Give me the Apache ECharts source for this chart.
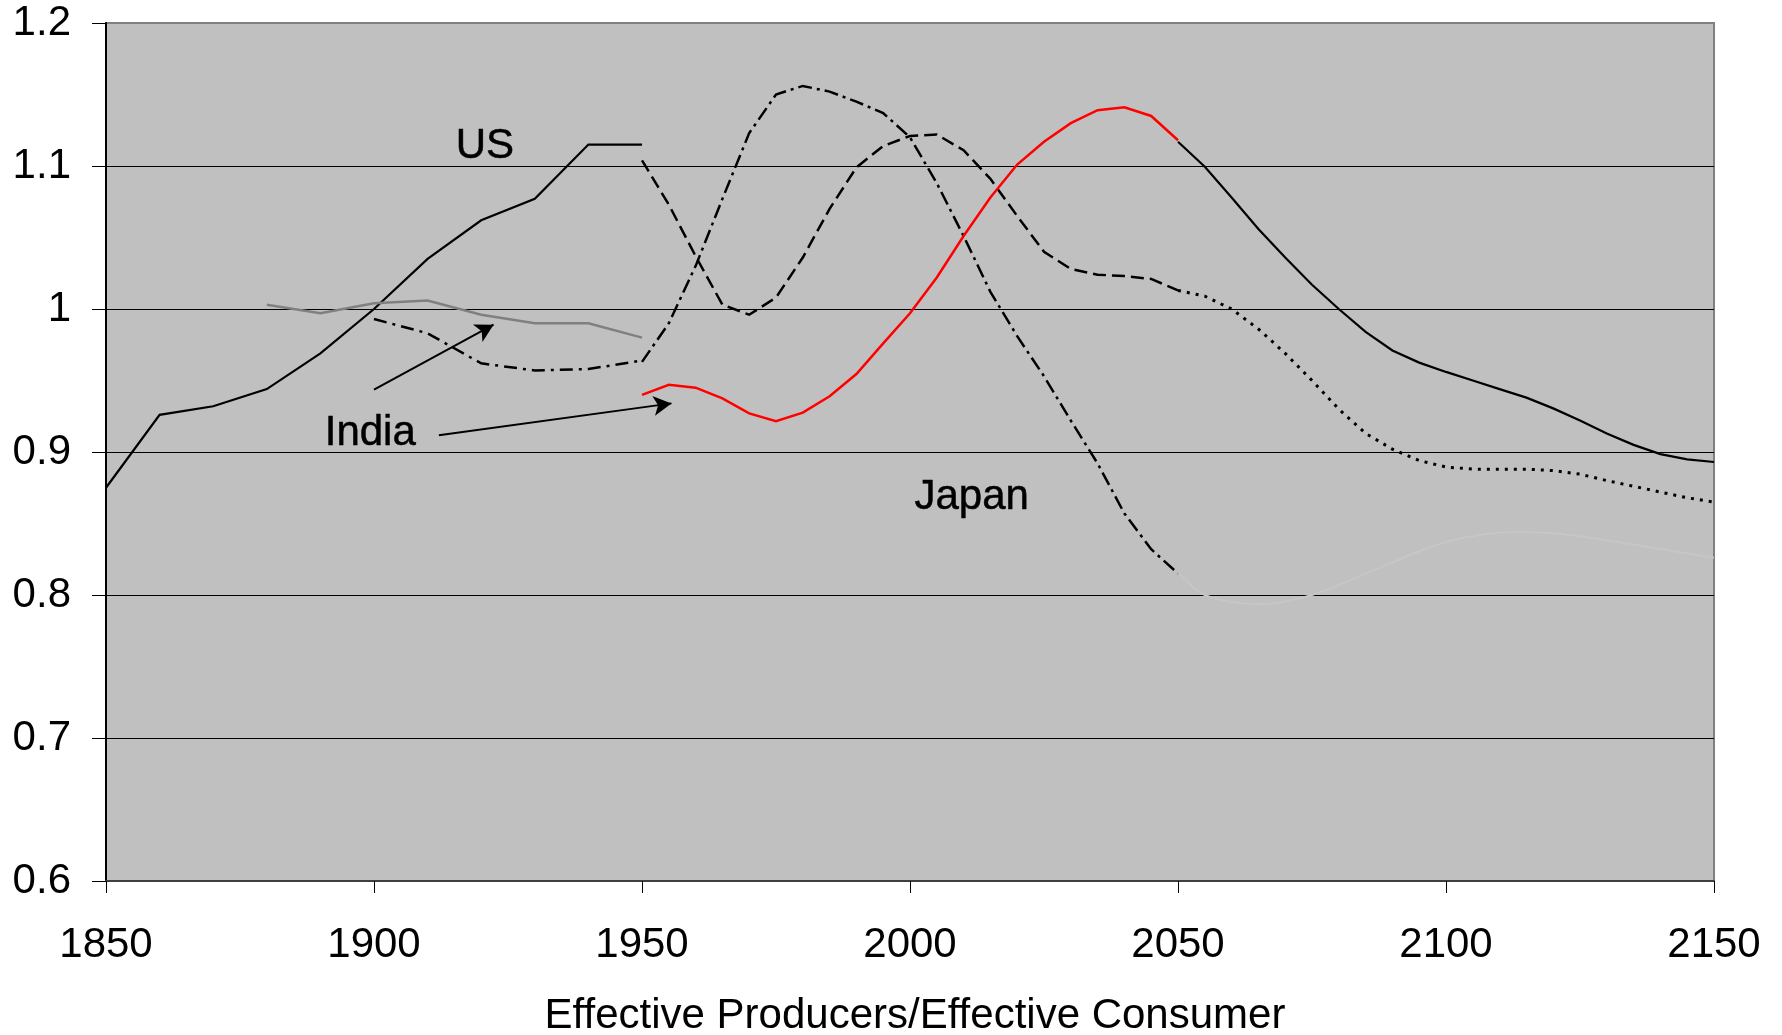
<!DOCTYPE html>
<html>
<head>
<meta charset="utf-8">
<script src="https://cdn.jsdelivr.net/npm/echarts@6/dist/echarts.min.js"></script>
<style>
  html, body { margin: 0; padding: 0; background: #fff; }
  #chart { width: 1782px; height: 1035px; }
</style>
</head>
<body>
<div id="chart"></div>
<script>
// ---- data ----
const usHistYears = [1850, 1860, 1870, 1880, 1890, 1900, 1910, 1920, 1930, 1940, 1950];
const usHist = [0.875, 0.926, 0.932, 0.944, 0.969, 1.0, 1.035, 1.062, 1.077, 1.115, 1.115];

const midYears = [1950, 1955, 1960, 1965, 1970, 1975, 1980, 1985, 1990, 1995, 2000,
  2005, 2010, 2015, 2020, 2025, 2030, 2035, 2040, 2045, 2050];
const lateYears = [2050, 2055, 2060, 2065, 2070, 2075, 2080, 2085, 2090, 2095, 2100,
  2105, 2110, 2115, 2120, 2125, 2130, 2135, 2140, 2145, 2150];

const usMid = [1.104, 1.073, 1.037, 1.003, 0.996, 1.008, 1.036, 1.070, 1.099, 1.114, 1.121,
  1.122, 1.111, 1.091, 1.065, 1.040, 1.028, 1.024, 1.023, 1.021, 1.013];
const usLate = [1.013, 1.009, 1.0, 0.986, 0.969, 0.95, 0.93, 0.913, 0.902, 0.894, 0.8895,
  0.888, 0.888, 0.888, 0.887, 0.8845, 0.880, 0.876, 0.872, 0.868, 0.865];

const japanHistYears = [1900, 1910, 1920, 1930, 1940, 1950];
const japanHist = [0.993, 0.983, 0.962, 0.957, 0.958, 0.964];
const japanMid = [0.963, 0.99, 1.03, 1.077, 1.123, 1.150, 1.156, 1.152, 1.145, 1.137, 1.120,
  1.088, 1.051, 1.012, 0.981, 0.953, 0.922, 0.892, 0.857, 0.832, 0.815];
const japanLateYears = [2050, 2055, 2065, 2075, 2087, 2100, 2113, 2123, 2137, 2150];
const japanLate = [0.816, 0.80, 0.7935, 0.80, 0.818, 0.837, 0.844, 0.842, 0.834, 0.826];

const indiaHistYears = [1880, 1890, 1900, 1910, 1920, 1930, 1940, 1950];
const indiaHist = [1.003, 0.997, 1.004, 1.006, 0.996, 0.990, 0.990, 0.980];
const indiaMid = [0.940, 0.947, 0.945, 0.9375, 0.927, 0.9215, 0.9275, 0.939, 0.9545, 0.976, 0.997,
  1.022, 1.051, 1.078, 1.101, 1.117, 1.130, 1.139, 1.141, 1.135, 1.118];
const indiaLate = [1.117, 1.0995, 1.078, 1.056, 1.036, 1.017, 1.0, 0.984, 0.971, 0.9625, 0.956,
  0.950, 0.944, 0.938, 0.9305, 0.922, 0.913, 0.905, 0.8985, 0.8948, 0.893];

const labelNames = ['US', 'Japan', 'India'];
const labelPos = [[1920.7, 1.114], [2011.5, 0.868], [1899.3, 0.913]];
// India arrows: [start, end]
const arrows = [
  [[1900, 0.9436], [1922.3, 0.989]],
  [[1912.1, 0.9117], [1955.5, 0.934]]
];

const xTicks = { min: 1850, max: 2150, interval: 50 };
const yTicks = { min: 0.6, max: 1.2, interval: 0.1 };

const FONT = "'Liberation Sans', Arial, sans-serif";
const FS = 42;

function pairs(xs, ys) {
  return xs.map((x, i) => [x, ys[i]]);
}

function seg(name, xs, ys, color, width, type, extra) {
  return Object.assign({
    name: name,
    type: 'line',
    data: pairs(xs, ys),
    showSymbol: false,
    symbol: 'none',
    silent: true,
    lineStyle: { color: color, width: width, type: type, cap: 'butt', join: 'miter' }
  }, extra || {});
}

const chart = echarts.init(document.getElementById('chart'));

chart.setOption({
  animation: false,
  textStyle: { fontFamily: FONT },
  title: {
    text: 'Effective Producers/Effective Consumer',
    left: 910,
    top: 990,
    textAlign: 'center',
    textStyle: { fontFamily: FONT, fontSize: FS, fontWeight: 'normal', color: '#000' }
  },
  grid: {
    left: 106,
    right: 68,
    top: 23,
    bottom: 154,
    show: true,
    backgroundColor: '#c0c0c0',
    borderColor: '#808080',
    borderWidth: 2
  },
  xAxis: {
    type: 'value',
    min: xTicks.min,
    max: xTicks.max,
    interval: xTicks.interval,
    axisLine: { show: true, lineStyle: { color: '#404040', width: 2 } },
    axisTick: { show: true, length: 12, lineStyle: { color: '#000', width: 1 } },
    splitLine: { show: false },
    axisLabel: {
      fontFamily: FONT, fontSize: FS, color: '#000', margin: 43,
      formatter: v => String(v)
    }
  },
  yAxis: {
    type: 'value',
    min: yTicks.min,
    max: yTicks.max,
    interval: yTicks.interval,
    axisLine: { show: true, lineStyle: { color: '#000', width: 2 } },
    axisTick: { show: true, length: 14, lineStyle: { color: '#000', width: 1 } },
    splitLine: { show: true, showMinLine: false, showMaxLine: false, lineStyle: { color: '#000', width: 1 } },
    axisLabel: {
      fontFamily: FONT, fontSize: FS, color: '#000', margin: 35,
      formatter: v => String(Math.round(v * 10) / 10)
    }
  },
  series: [
    seg('Japan 2050-2150', japanLateYears, japanLate, '#c6c6c6', 2, 'solid', { smooth: 0.3 }),
    seg('US 1850-1950', usHistYears, usHist, '#000', 2.2, 'solid'),
    seg('US 1950-2050', midYears, usMid, '#000', 2.5, [13, 6]),
    seg('US 2050-2150', lateYears, usLate, '#000', 3, [3, 6]),
    seg('Japan 1900-1950', japanHistYears, japanHist, '#000', 2.5, [13, 6, 3, 6]),
    seg('Japan 1950-2050', midYears, japanMid, '#000', 2.5, [14, 5, 3, 5]),
    seg('India 1880-1950', indiaHistYears, indiaHist, '#808080', 2.5, 'solid'),
    seg('India 1950-2050', midYears, indiaMid, '#ff0000', 2.5, 'solid'),
    seg('India 2050-2150', lateYears, indiaLate, '#000', 2.2, 'solid', {
      markLine: {
        silent: true,
        symbol: ['none', 'arrow'],
        symbolSize: [15, 18],
        label: { show: false },
        lineStyle: { color: '#000', width: 2, type: 'solid' },
        data: arrows.map(a => [{ coord: a[0] }, { coord: a[1] }])
      }
    }),
    {
      name: 'labels',
      type: 'scatter',
      silent: true,
      symbolSize: 1,
      itemStyle: { color: 'rgba(0,0,0,0)' },
      label: {
        show: true,
        position: 'inside',
        formatter: '{b}',
        fontFamily: FONT,
        fontSize: FS,
        color: '#000',
        opacity: 1,
        textBorderColor: '#000',
        textBorderWidth: 0.5
      },
      data: labelNames.map((n, i) => ({ name: n, value: labelPos[i] }))
    }
  ]
});
</script>
</body>
</html>
